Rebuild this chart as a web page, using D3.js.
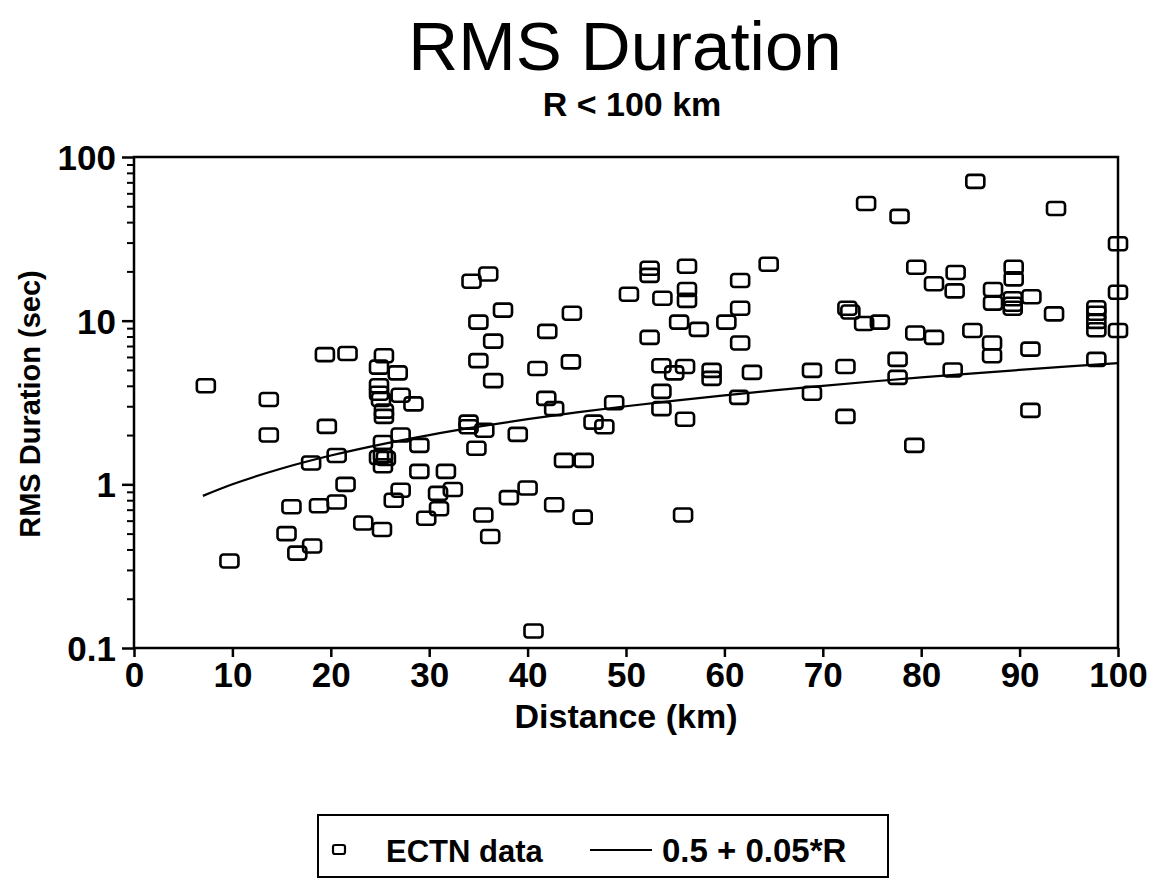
<!DOCTYPE html>
<html>
<head>
<meta charset="utf-8">
<script src="https://cdn.jsdelivr.net/npm/d3@7"></script>
<style>
  body { margin: 0; background: #fff; }
  text { font-family: "Liberation Sans", Arial, Helvetica, sans-serif; fill: #000; }
</style>
</head>
<body>
<script>
/* RMS duration vs distance, log y axis */

// ECTN data: distance (km) and RMS duration (sec)
let distKm = [7.3, 9.7, 13.7, 13.7, 15.5, 16.0, 16.6, 18.1, 18.0, 18.8, 19.6, 19.4, 20.6, 20.6, 21.5, 21.7, 23.3, 25.2,
    25.4, 24.9, 26.8, 24.9, 24.9, 25.1, 25.4, 25.4, 27.1, 28.4, 27.1, 29.0, 25.3, 25.3, 25.6, 24.9, 25.3, 29.0, 31.7,
    27.1, 26.4, 30.9, 32.4, 29.7, 31.0,
    34.0, 34.0, 34.8, 35.6, 39.0, 34.3, 36.0, 37.5, 35.0, 36.5, 35.0, 36.5, 42.0, 44.5, 41.0, 44.4, 41.9, 42.7, 46.7,
    47.8, 48.8, 38.1, 40.0, 43.7, 45.7, 42.7, 45.6, 35.5, 36.2, 40.6, 55.8,
    52.4, 52.4, 56.2, 64.5, 50.3, 53.7, 56.2, 56.2, 61.6, 61.6, 60.2, 55.4, 57.4, 52.4, 61.6, 53.6, 54.9, 56.0, 58.7,
    58.7, 62.8, 53.6, 53.6, 56.0, 61.5,
    68.9, 68.9, 72.3, 72.3, 72.5, 72.8, 74.4, 74.2, 75.8, 77.8, 77.6, 77.6, 79.3, 79.5, 79.4, 81.3, 81.3, 83.5, 83.4,
    83.2, 85.2, 85.5, 87.3, 87.3, 87.2, 87.2, 89.4, 89.4, 89.3, 89.3, 89.3, 91.2, 91.1, 91.1, 93.5, 93.7,
    97.8, 97.8, 97.8, 97.8, 97.8, 100, 100, 100];
let rmsSec = [4.0, 0.34, 3.3, 2.0, 0.50, 0.73, 0.38, 0.42, 1.35, 0.74, 2.26, 6.2, 1.5, 0.78, 1.0, 6.3, 0.58, 0.53,
    6.1, 5.2, 4.8, 4.0, 3.6, 3.3, 2.8, 2.6, 3.5, 3.1, 2.0, 1.73, 1.8, 1.5, 1.44, 1.46, 1.3, 1.2, 1.2,
    0.92, 0.80, 0.88, 0.93, 0.62, 0.71,
    2.4, 2.25, 1.66, 2.14, 2.02, 17.4, 19.3, 11.6, 9.8, 7.5, 5.7, 4.3, 8.6, 11.1, 5.1, 5.6, 3.35, 2.9, 2.4,
    2.25, 3.15, 0.83, 0.95, 1.4, 1.4, 0.75, 0.63, 0.65, 0.48, 0.127, 0.65,
    20.9, 18.9, 21.5, 22.1, 14.5, 13.7, 15.5, 13.3, 17.6, 11.9, 9.8, 9.8, 8.85, 7.9, 7.3, 5.3, 4.8, 5.25, 4.97,
    4.44, 4.83, 3.7, 2.9, 2.5, 3.4,
    4.97, 3.6, 5.25, 2.6, 11.9, 11.3, 52, 9.6, 9.8, 43.4, 5.8, 4.5, 1.73, 21.2, 8.4, 16.8, 7.9, 19.7, 15.2,
    5.0, 8.7, 71, 15.5, 12.8, 7.3, 6.1, 21.2, 18.0, 13.6, 12.6, 11.9, 14.0, 6.7, 2.83, 11.0, 48.5,
    12.0, 11.1, 9.9, 8.8, 5.8, 29.5, 14.9, 8.7];

// fitted curve 0.5 + 0.05*R
let curveR = [7, 10, 15, 20, 25, 30, 35, 40, 45, 50, 55, 60, 65, 70, 75, 80, 85, 90, 95, 100];
let curveSec = [0.85, 1.0, 1.25, 1.5, 1.75, 2.0, 2.25, 2.5, 2.75, 3.0, 3.25, 3.5, 3.75, 4.0, 4.25, 4.5, 4.75, 5.0, 5.25, 5.5];

let xTicks = [0, 10, 20, 30, 40, 50, 60, 70, 80, 90, 100];
let yTicks = [0.1, 1, 10, 100];
let yTickLabels = ["0.1", "1", "10", "100"];

let points = distKm.map((d, i) => ({x: d, y: rmsSec[i]}));
let curve = curveR.map((d, i) => ({x: d, y: curveSec[i]}));

let width = 1163, height = 881;
let mLeft = 134, mRight = 1118, mTop = 157, mBottom = 648;

let svg = d3.select("body").append("svg").attr("width", width).attr("height", height);

let x = d3.scaleLinear().domain([0, 100]).range([mLeft, mRight]);
let y = d3.scaleLog().domain([0.1, 100]).range([mBottom, mTop]);

// titles
svg.append("text").attr("x", 625).attr("y", 70).attr("text-anchor", "middle")
    .style("font-size", "69px").text("RMS Duration");
svg.append("text").attr("x", 632).attr("y", 116).attr("text-anchor", "middle")
    .style("font-size", "34px").style("font-weight", "bold").text("R < 100 km");

// frame
svg.append("rect").attr("x", mLeft).attr("y", mTop).attr("width", mRight - mLeft).attr("height", mBottom - mTop)
    .attr("fill", "none").attr("stroke", "#000").attr("stroke-width", 2.5);

// y axis with minor ticks
let minor = [];
for (let k = -1; k < 2; k++) {
    for (let m = 2; m < 10; m++) minor.push(m * Math.pow(10, k));
}
let yAxis = d3.axisLeft(y).tickValues(yTicks).tickSize(12).tickFormat((d, i) => yTickLabels[i]).tickPadding(6);
let gy = svg.append("g").attr("transform", "translate(" + mLeft + ",0)").call(yAxis);
gy.select(".domain").remove();
gy.selectAll("line").attr("stroke-width", 2.5);
gy.selectAll("text").style("font-size", "35px").style("font-weight", "bold").attr("dy", "0.36em");

let yMinor = d3.axisLeft(y).tickValues(minor).tickSize(7).tickFormat("");
let gym = svg.append("g").attr("transform", "translate(" + mLeft + ",0)").call(yMinor);
gym.select(".domain").remove();
gym.selectAll("line").attr("stroke-width", 2);

// x axis
let xAxis = d3.axisBottom(x).tickValues(xTicks).tickSize(9).tickPadding(5);
let gx = svg.append("g").attr("transform", "translate(0," + mBottom + ")").call(xAxis);
gx.select(".domain").remove();
gx.selectAll("line").attr("stroke-width", 2.5);
gx.selectAll("text").style("font-size", "35px").style("font-weight", "bold");

// axis titles
svg.append("text").attr("x", 626).attr("y", 728).attr("text-anchor", "middle")
    .style("font-size", "34px").style("font-weight", "bold").text("Distance (km)");
svg.append("text").attr("transform", "translate(40,404) rotate(-90)").attr("text-anchor", "middle")
    .style("font-size", "29px").style("font-weight", "bold").text("RMS Duration (sec)");

// fitted curve
let line = d3.line().x(d => x(d.x)).y(d => y(d.y)).curve(d3.curveMonotoneX);
svg.append("path").datum(curve).attr("d", line).attr("fill", "none")
    .attr("stroke", "#000").attr("stroke-width", 2.2);

// data squares
let bw = 18, bh = 13;
svg.selectAll("rect.pt")
    .data(points)
    .enter()
    .append("rect")
    .attr("class", "pt")
    .attr("x", d => x(d.x) - bw / 2)
    .attr("y", d => y(d.y) - bh / 2)
    .attr("width", bw).attr("height", bh)
    .attr("rx", 3)
    .attr("fill", "none")
    .attr("stroke", "#000")
    .attr("stroke-width", 2.6);

// legend
let lg = svg.append("g");
lg.append("rect").attr("x", 318).attr("y", 815).attr("width", 570).attr("height", 62)
    .attr("fill", "none").attr("stroke", "#000").attr("stroke-width", 2);
lg.append("rect").attr("x", 333).attr("y", 845).attr("width", 12).attr("height", 9).attr("rx", 2)
    .attr("fill", "none").attr("stroke", "#000").attr("stroke-width", 2.2);
lg.append("text").attr("x", 386).attr("y", 862).style("font-size", "31px").style("font-weight", "bold").text("ECTN data");
lg.append("line").attr("x1", 590).attr("x2", 652).attr("y1", 850).attr("y2", 850)
    .attr("stroke", "#000").attr("stroke-width", 2);
lg.append("text").attr("x", 662).attr("y", 862).style("font-size", "33px").style("font-weight", "bold").text("0.5 + 0.05*R");
</script>
</body>
</html>
